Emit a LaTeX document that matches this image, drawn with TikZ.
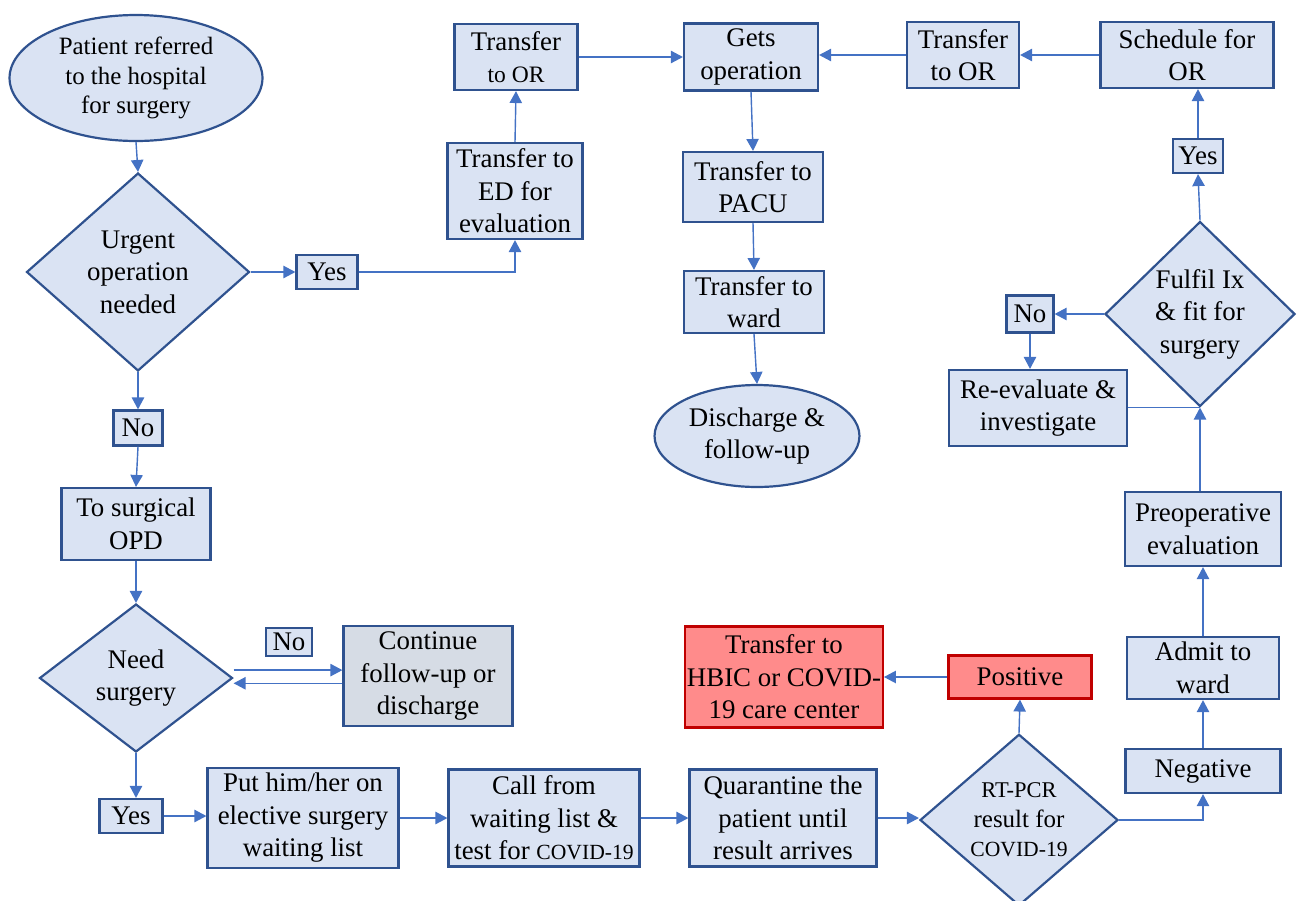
\documentclass[tikz,border=0pt]{standalone}
\usepackage{fontspec}
\setmainfont{Liberation Serif}
\usetikzlibrary{shapes.geometric,arrows.meta}

\definecolor{boxfill}{HTML}{DAE3F3}
\definecolor{boxline}{HTML}{2F528F}
\definecolor{lineblue}{HTML}{4472C4}
\definecolor{greyfill}{HTML}{D6DCE5}
\definecolor{redfill}{HTML}{FF8B8B}
\definecolor{redline}{HTML}{C00000}

\newcommand{\bfnt}{\fontsize{15.3}{18.5}\selectfont}
\newcommand{\mfnt}{\fontsize{14.2}{16.8}\selectfont}
\newcommand{\tsm}[1]{{\fontsize{12.3}{14}\selectfont #1}}

\tikzset{
  box/.style={draw=boxline, fill=boxfill, line width=1.25pt, align=center,
              inner sep=1pt, font=\bfnt},
  dec/.style={box, diamond, inner sep=0pt},
  oval/.style={box, ellipse, inner sep=0pt},
  redbox/.style={box, draw=redline, fill=redfill},
  conn/.style={draw=lineblue, line width=0.8pt, -{Triangle[length=6.8pt,width=7pt]}},
  plain/.style={draw=lineblue, line width=0.8pt}
}

\begin{document}
\begin{tikzpicture}[x=0.02cm,y=-0.02cm]
\useasboundingbox (0,0) rectangle (1297,900);

%--------------------------------------------------- left column
\node[oval, minimum width=5.06cm, minimum height=2.52cm, font=\mfnt] (start) at (136,78)
  {Patient referred\\ to the hospital\\ for surgery};
\node[dec, minimum width=4.46cm, minimum height=3.96cm] (urgent) at (138,272)
  {Urgent\\ operation\\ needed};
\node[box, minimum width=1.22cm, minimum height=0.68cm] (yes1) at (327,272) {Yes};
\node[box, minimum width=0.98cm, minimum height=0.7cm] (no1) at (138,428) {No};
\node[box, minimum width=2.98cm, minimum height=1.44cm] (opd) at (136,524)
  {To surgical\\ OPD};
\node[dec, minimum width=3.86cm, minimum height=2.96cm] (need) at (136,678)
  {Need\\ surgery};
\node[box, minimum width=0.92cm, minimum height=0.56cm] (no3) at (289,642) {No};
\node[box, fill=greyfill, minimum width=3.38cm, minimum height=2cm] (cont) at (428,676)
  {Continue\\ follow-up or\\ discharge};
\node[box, minimum width=1.26cm, minimum height=0.68cm] (yes3) at (131,816) {Yes};

%--------------------------------------------------- top row
\node[box, minimum width=2.7cm, minimum height=1.92cm] (ed) at (515,191)
  {Transfer to\\ ED for\\ evaluation};
\node[box, minimum width=2.46cm, minimum height=1.32cm] (toorL) at (516,57)
  {Transfer\\ {\fontsize{13.4}{16}\selectfont to OR}};
\node[box, minimum width=2.68cm, minimum height=1.34cm] (gets) at (751,57)
  {Gets\\ operation};
\node[box, minimum width=2.24cm, minimum height=1.32cm] (toorR) at (963,55)
  {Transfer\\ to OR};
\node[box, minimum width=3.46cm, minimum height=1.32cm] (sched) at (1187,55)
  {Schedule for\\ OR};

%--------------------------------------------------- middle column
\node[box, minimum width=2.8cm, minimum height=1.4cm] (pacu) at (753,187)
  {Transfer to\\ PACU};
\node[box, minimum width=2.8cm, minimum height=1.24cm] (ward) at (754,302)
  {Transfer to\\ ward};
\node[oval, minimum width=4.1cm, minimum height=2.04cm] (disch) at (757,436)
  {Discharge \&\\ follow-up};

%--------------------------------------------------- right column
\node[box, minimum width=1cm, minimum height=0.68cm] (yes2) at (1198,156) {Yes};
\node[dec, minimum width=3.8cm, minimum height=3.7cm] (fulfil) at (1200,314)
  {Fulfil Ix\\ \& fit for\\ surgery};
\node[box, minimum width=0.94cm, minimum height=0.74cm] (no2) at (1030,314) {No};
\node[box, minimum width=3.56cm, minimum height=1.52cm] (reeval) at (1038,408)
  {Re-evaluate \&\\ investigate};
\node[box, minimum width=3.12cm, minimum height=1.48cm] (preop) at (1203,529)
  {Preoperative\\ evaluation};
\node[box, minimum width=3.04cm, minimum height=1.24cm] (admit) at (1203,668)
  {Admit to\\ ward};
\node[box, minimum width=3.1cm, minimum height=0.88cm] (neg) at (1203,771) {Negative};
\node[redbox, minimum width=2.86cm, minimum height=0.86cm] (pos) at (1020,677) {Positive};
\node[redbox, minimum width=3.82cm, minimum height=2.02cm] (hbic) at (784,677)
  {Transfer to\\ HBIC or COVID-\\ 19 care center};

%--------------------------------------------------- bottom row
\node[box, minimum width=3.82cm, minimum height=2cm] (put) at (303,818)
  {Put him/her on\\ elective surgery\\ waiting list};
\node[box, minimum width=3.82cm, minimum height=1.94cm] (call) at (544,818)
  {Call from\\ waiting list \&\\ test for \tsm{COVID-19}};
\node[box, minimum width=3.74cm, minimum height=1.94cm] (quar) at (783,818)
  {Quarantine the\\ patient until\\ result arrives};
\node[dec, minimum width=3.96cm, minimum height=3.4cm, font=\mfnt] (rt) at (1019,820)
  {{\fontsize{12.8}{16}\selectfont RT-PCR}\\ result for\\ \tsm{COVID-19}};

%--------------------------------------------------- connectors
\draw[conn] (start.south) -- (urgent.north);
\draw[conn] (urgent.east) -- (yes1.west);
\draw[conn] (yes1.east) -| (ed.south);
\draw[conn] (ed.north) -- (toorL.south);
\draw[conn] (toorL.east) -- (toorL.east -| gets.west);
\draw[conn] (toorR.west) -- (toorR.west -| gets.east);
\draw[conn] (sched.west) -- (toorR.east);
\draw[conn] (gets.south) -- (pacu.north);
\draw[conn] (pacu.south) -- (ward.north);
\draw[conn] (ward.south) -- (disch.north);

\draw[conn] (urgent.south) -- (no1.north);
\draw[conn] (no1.south) -- (opd.north);
\draw[conn] (opd.south) -- (need.north);
\draw[conn] ([yshift=4.5pt]need.east) -- ([yshift=4.5pt]need.east -| cont.west);
\draw[conn] ([yshift=-3pt]need.east -| cont.west) -- ([yshift=-3pt]need.east);
\draw[conn] (need.south) -- (need.south |- yes3.north);
\draw[conn] (yes3.east) -- (yes3.east -| put.west);
\draw[conn] (put.east) -- (call.west);
\draw[conn] (call.east) -- (quar.west);
\draw[conn] (quar.east) -- (quar.east -| rt.west);
\draw[conn] (rt.north) -- (pos.south);
\draw[conn] (pos.west) -- (hbic.east);
\draw[conn] (rt.east) -| (neg.south);
\draw[conn] (neg.north) -- (admit.south);
\draw[conn] (admit.north) -- (preop.south);
\draw[conn] (fulfil.south |- preop.north) -- (fulfil.south);
\draw[plain] (reeval.east |- fulfil.south) -- (fulfil.south);
\draw[conn] (fulfil.west) -- (no2.east);
\draw[conn] (no2.south) -- (no2.south |- reeval.north);
\draw[conn] (fulfil.north) -- (yes2.south);
\draw[conn] (yes2.north) -- (yes2.north |- sched.south);

\end{tikzpicture}
\end{document}
